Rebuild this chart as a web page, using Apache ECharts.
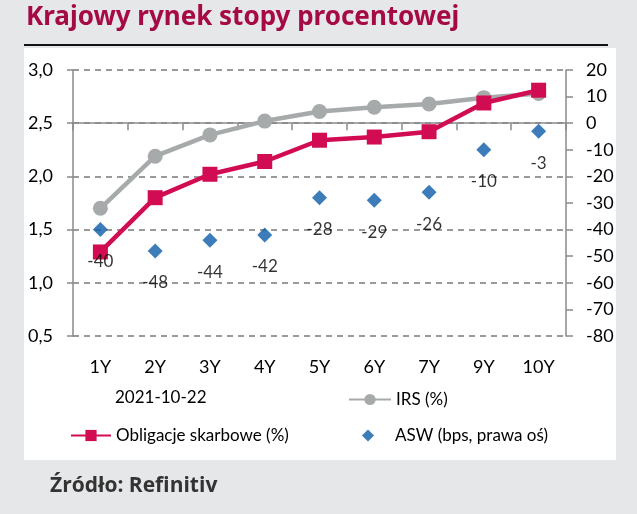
<!DOCTYPE html>
<html>
<head>
<meta charset="utf-8">
<script src="https://cdn.jsdelivr.net/npm/echarts@6/dist/echarts.min.js"></script>
<style>
  html, body { margin: 0; padding: 0; background: #e6e7e9; }
  #chart { width: 637px; height: 514px; }
</style>
</head>
<body>
<div id="chart"></div>
<script>
const categories = ['1Y', '2Y', '3Y', '4Y', '5Y', '6Y', '7Y', '9Y', '10Y'];
const irs = [1.70, 2.19, 2.39, 2.52, 2.61, 2.65, 2.68, 2.74, 2.78];
const bonds = [1.29, 1.80, 2.02, 2.14, 2.34, 2.37, 2.42, 2.69, 2.81];
const asw = [-40, -48, -44, -42, -28, -29, -26, -10, -3];

const font = 'Lato, "Open Sans", sans-serif';
const chart = echarts.init(document.getElementById('chart'));

const option = {
  animation: false,
  textStyle: { fontFamily: font },
  graphic: [
    { type: 'rect', z: -100, silent: true,
      shape: { x: 24, y: 48, width: 592, height: 412 },
      style: { fill: '#ffffff' } },
    { type: 'text', left: 26, top: 5,
      style: { text: 'Krajowy rynek stopy procentowej', fill: '#a50a45',
        font: 'bold 26px "Noto Sans", sans-serif' } },
    { type: 'rect', shape: { x: 24, y: 44, width: 584, height: 2 },
      style: { fill: '#111' } },
    { type: 'text', left: 115, top: 389,
      style: { text: '2021-10-22', fill: '#000', font: '17px ' + font } },
    { type: 'text', left: 50, top: 476,
      style: { text: 'Źródło: Refinitiv', fill: '#333', font: 'bold 21px "Open Sans", sans-serif' } }
  ],
  grid: { left: 73, right: 71, top: 70, bottom: 178 },
  legend: [
    { data: ['IRS (%)'], left: 348, top: 391, padding: 0, itemWidth: 42, itemHeight: 14,
      textStyle: { fontSize: 17, color: '#000', fontFamily: font } },
    { data: ['Obligacje skarbowe (%)'], left: 70, top: 427, padding: 0, itemWidth: 40, itemHeight: 14,
      textStyle: { fontSize: 17, color: '#000', fontFamily: font } },
    { data: [{ name: 'ASW (bps, prawa oś)', icon: 'diamond' }], left: 362, top: 427, padding: 0,
      itemWidth: 12, itemHeight: 12,
      textStyle: { fontSize: 17, color: '#000', fontFamily: font, padding: [0, 0, 0, 16] } }
  ],
  xAxis: {
    type: 'category',
    data: categories,
    boundaryGap: true,
    axisLine: { lineStyle: { color: '#8a8a8a', width: 1.5 } },
    axisTick: { show: true, length: 7, lineStyle: { color: '#8a8a8a', width: 1.5 } },
    axisLabel: { color: '#000', fontSize: 18, margin: 22, fontFamily: font }
  },
  yAxis: [
    {
      type: 'value', min: 0.5, max: 3, interval: 0.5,
      axisLine: { show: true, lineStyle: { color: '#8a8a8a', width: 1.5 } },
      axisTick: { show: true, length: 6, lineStyle: { color: '#8a8a8a', width: 1.5 } },
      axisLabel: { color: '#000', fontSize: 18, margin: 20, fontFamily: font,
        formatter: v => v.toFixed(1).replace('.', ',') },
      splitLine: { lineStyle: { color: '#7a7a7a', type: [6, 5], width: 1.5 } }
    },
    {
      type: 'value', min: -80, max: 20, interval: 10,
      axisLine: { show: true, lineStyle: { color: '#8a8a8a', width: 1.5 } },
      axisTick: { show: true, length: 7, lineStyle: { color: '#8a8a8a', width: 1.5 } },
      axisLabel: { color: '#000', fontSize: 18, margin: 20, fontFamily: font },
      splitLine: { show: false }
    }
  ],
  series: [
    {
      name: 'IRS (%)', type: 'line', data: irs,
      symbol: 'circle', symbolSize: 15,
      lineStyle: { color: '#a7aaab', width: 4.5 },
      itemStyle: { color: '#a7aaab' }
    },
    {
      name: 'Obligacje skarbowe (%)', type: 'line', data: bonds,
      symbol: 'rect', symbolSize: 15,
      lineStyle: { color: '#d10c52', width: 4.5 },
      itemStyle: { color: '#d10c52' }
    },
    {
      name: 'ASW (bps, prawa oś)', type: 'scatter', yAxisIndex: 1, data: asw, z: 10,
      symbol: 'diamond', symbolSize: [15, 15],
      itemStyle: { color: '#0b5ca8' },
      label: { show: true, position: 'bottom', distance: 16, color: '#000',
        fontSize: 17, fontFamily: font }
    }
  ]
};

chart.setOption(option);
</script>
</body>
</html>
